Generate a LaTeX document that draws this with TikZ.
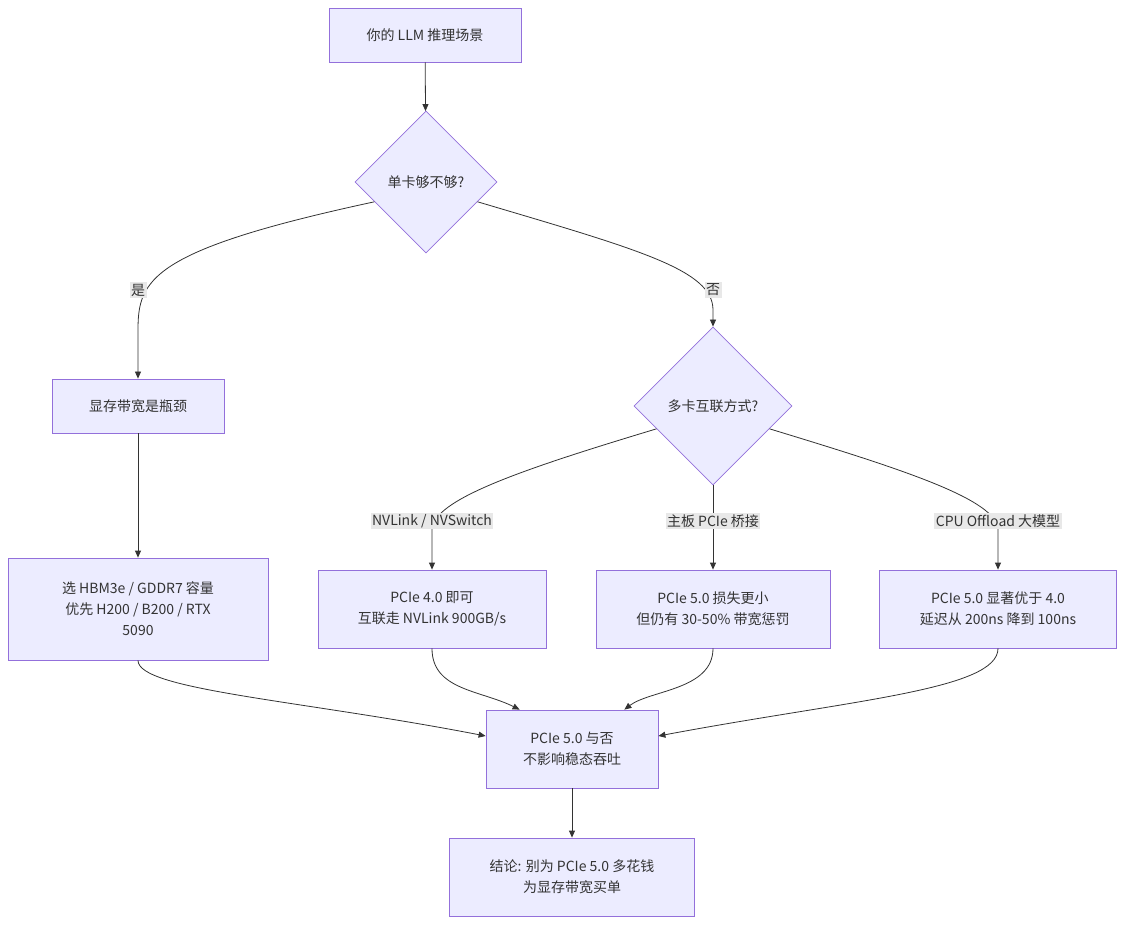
\documentclass[tikz,border=0pt]{standalone}
\usepackage{fontspec}
\setmainfont{Noto Sans CJK SC}
\usetikzlibrary{shapes.geometric,arrows.meta,calc}
\definecolor{nfill}{HTML}{ECECFF}
\definecolor{nstroke}{HTML}{9370DB}
\definecolor{txt}{HTML}{333333}
\definecolor{lbl}{HTML}{E8E8E8}
\begin{document}
\begin{tikzpicture}[x=1pt,y=-1pt,
  every node/.style={text=txt,font=\fontsize{14}{21}\selectfont},
  box/.style={draw=nstroke,fill=nfill,line width=0.8pt,align=center,inner sep=0pt},
  dia/.style={draw=nstroke,fill=nfill,line width=0.8pt,diamond,inner sep=0pt,align=center},
  edge/.style={draw=txt,line width=0.8pt,-{Triangle[length=7pt,width=6pt]}},
  elab/.style={fill=lbl,inner sep=1.5pt}]
\useasboundingbox (0,0) rectangle (1125,925);
\node[box,minimum width=192,minimum height=54] (start) at (425,35) {你的 LLM 推理场景};
\node[dia,minimum width=142,minimum height=142] (d1) at (426,182) {单卡够不够?};
\node[box,minimum width=172,minimum height=54] (mem) at (138,406) {显存带宽是瓶颈};
\node[dia,minimum width=158,minimum height=158] (d2) at (713,406) {多卡互联方式?};
\node[box,minimum width=260,minimum height=102] (hbm) at (138,609) {选 HBM3e / GDDR7 容量\\优先 H200 / B200 / RTX\\5090};
\node[box,minimum width=228,minimum height=78] (nv) at (432,609) {PCIe 4.0 即可\\互联走 NVLink 900GB/s};
\node[box,minimum width=234,minimum height=78] (p5) at (713,609) {PCIe 5.0 损失更小\\但仍有 30-50\% 带宽惩罚};
\node[box,minimum width=237,minimum height=78] (cpu) at (998,609) {PCIe 5.0 显著优于 4.0\\延迟从 200ns 降到 100ns};
\node[box,minimum width=172,minimum height=78] (mg) at (572,749) {PCIe 5.0 与否\\不影响稳态吞吐};
\node[box,minimum width=245,minimum height=78] (cc) at (572,877) {结论: 别为 PCIe 5.0 多花钱\\为显存带宽买单};
\draw[edge] (start) -- (d1);
\draw[edge] (d1.201) .. controls (150,250) and (138,280) .. (138,330) -- (mem.north);
\draw[edge] (d1.-21) .. controls (640,250) and (713,270) .. (713,310) -- (d2.north);
\draw[edge] (d2.202) .. controls (520,470) and (432,500) .. (432,530) .. controls (432,545) .. (nv.north);
\draw[edge] (d2.south) -- (p5.north);
\draw[edge] (d2.-22) .. controls (905,470) and (998,500) .. (998,530) .. controls (998,545) .. (cpu.north);
\draw[edge] (mem) -- (hbm);
\draw[edge] (hbm.south) .. controls (138,690) and (300,700) .. ($(mg.west)+(0,-13)$);
\draw[edge] (nv.south) .. controls (432,690) and (480,690) .. ($(mg.north west)+(34,0)$);
\draw[edge] (p5.south) .. controls (713,690) and (650,690) .. ($(mg.north east)+(-34,0)$);
\draw[edge] (cpu.south) .. controls (998,690) and (850,700) .. ($(mg.east)+(0,-13)$);
\draw[edge] (mg) -- (cc);
\node[elab] (l1) at (138,290) {是};
\node[elab] (l2) at (713,290) {否};
\node[elab] (l3) at (432,521) {NVLink / NVSwitch};
\node[elab] (l4) at (713,521) {主板 PCIe 桥接};
\node[elab] (l5) at (998,521) {CPU Offload 大模型};
\end{tikzpicture}
\end{document}
